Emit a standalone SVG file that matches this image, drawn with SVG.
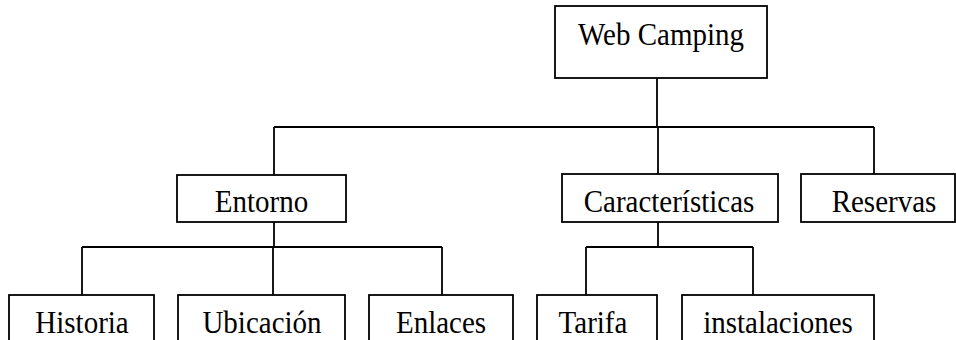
<svg xmlns="http://www.w3.org/2000/svg" width="956" height="340" viewBox="0 0 956 340">
<style>
.box{fill:#fff;stroke:#000;stroke-width:1.8}
.lbl{font-family:"Liberation Serif","Times New Roman",serif;font-size:29px;fill:#000;text-anchor:middle}
.con{fill:none;stroke:#000;stroke-width:1.8}
</style>
<rect width="956" height="340" fill="#fff"/>
<g id="connectors">
<path class="con" d="M657 78V127M274 127H874M274 127V175M658 127V174M874 127V174"/>
<path class="con" d="M274 222V247M82 247H442M82 247V295M273 247V295M442 247V295"/>
<path class="con" d="M658 222V247M586 247H753M586 247V295M753 247V295"/>
</g>
<g id="web-camping"><rect class="box" x="555" y="6" width="212" height="72"/><text class="lbl" transform="translate(661,44.5) scale(1,1.11)">Web Camping</text></g>
<g id="entorno"><rect class="box" x="177" y="175" width="169" height="47"/><text class="lbl" transform="translate(261.5,212) scale(1,1.11)">Entorno</text></g>
<g id="caracteristicas"><rect class="box" x="562" y="174" width="216" height="48"/><text class="lbl" transform="translate(669,212) scale(1,1.11)">Características</text></g>
<g id="reservas"><rect class="box" x="801" y="174" width="154" height="48"/><text class="lbl" transform="translate(884,212) scale(1,1.11)">Reservas</text></g>
<g id="historia"><rect class="box" x="9" y="295" width="145" height="60"/><text class="lbl" transform="translate(82,333) scale(1,1.11)">Historia</text></g>
<g id="ubicacion"><rect class="box" x="178" y="295" width="167" height="60"/><text class="lbl" transform="translate(262,333) scale(1,1.11)">Ubicación</text></g>
<g id="enlaces"><rect class="box" x="369" y="295" width="144" height="60"/><text class="lbl" transform="translate(441,333) scale(1,1.11)">Enlaces</text></g>
<g id="tarifa"><rect class="box" x="537" y="295" width="120" height="60"/><text class="lbl" transform="translate(593,333) scale(1,1.11)">Tarifa</text></g>
<g id="instalaciones"><rect class="box" x="682" y="295" width="192" height="60"/><text class="lbl" transform="translate(778,333) scale(1,1.11)">instalaciones</text></g>
</svg>
